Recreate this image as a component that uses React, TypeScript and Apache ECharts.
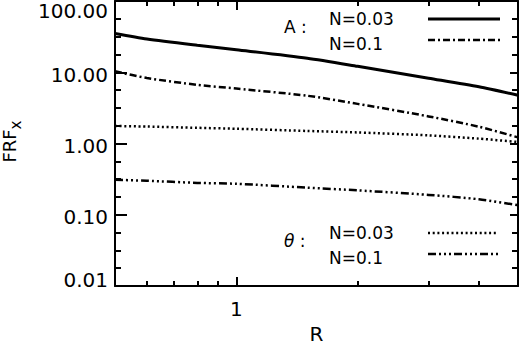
import React, { useEffect, useRef } from 'react';
import * as echarts from 'echarts';

// Data
const R = [0.5, 0.6, 0.8, 1.0, 1.5, 2.0, 3.0, 4.0, 5.0];
const A_N003 = [35, 29.3, 23.9, 20.7, 15.7, 12.1, 8.24, 6.25, 4.75];
const A_N01 = [10.3, 8.3, 6.65, 5.9, 4.68, 3.6, 2.4, 1.72, 1.22];
const TH_N003 = [1.76, 1.73, 1.66, 1.61, 1.5, 1.43, 1.3, 1.17, 1.05];
const TH_N01 = [0.31, 0.3, 0.28, 0.272, 0.24, 0.22, 0.19, 0.165, 0.136];

const xMajorTicks = [1];
const xMinorTicks = [0.6, 0.7, 0.8, 0.9, 2, 3, 4];
const yTickLabels = ['0.01', '0.10', '1.00', '10.00', '100.00'];
const xRange = [0.5, 5];
const yRange = [0.01, 100];

const FONT = 'DejaVu Sans';
const INK = '#000';

const lg = (v: number) => Math.log10(v);
const toData = (ys: number[]) => R.map((r, i) => [lg(r), lg(ys[i])]);

export default function App() {
  const ref = useRef<HTMLDivElement>(null);
  useEffect(() => {
    if (!ref.current) return;
    const chart = echarts.init(ref.current, null, { renderer: 'svg' });

    const xBase = {
      type: 'value',
      min: lg(xRange[0]),
      max: lg(xRange[1]),
      splitLine: { show: false },
      axisLine: { show: true, onZero: false, lineStyle: { color: INK, width: 2 } },
    };
    const yBase = {
      type: 'value',
      min: lg(yRange[0]),
      max: lg(yRange[1]),
      interval: 1,
      splitLine: { show: false },
      axisLine: { show: true, onZero: false, lineStyle: { color: INK, width: 2 } },
    };

    const lineSeries = (name: string, ys: number[], type: any, width: number) => ({
      name,
      type: 'line',
      data: toData(ys),
      showSymbol: false,
      smooth: 0.25,
      lineStyle: { color: INK, width, type, cap: 'butt' },
      xAxisIndex: 0,
      yAxisIndex: 0,
    });

    const txt = (text: string, left: number, top: number) => ({
      type: 'text', left, top, style: { text, font: `17px "${FONT}"`, fill: INK },
    });

    chart.setOption({
      animation: false,
      backgroundColor: '#fff',
      grid: { left: 115, right: 1, top: 1, bottom: 58, containLabel: false, outerBoundsMode: 'none' },
      xAxis: [
        {
          ...xBase,
          position: 'bottom',
          axisTick: {
            show: true,
            inside: true,
            length: 9,
            customValues: xMajorTicks.map(lg),
            lineStyle: { color: INK, width: 2 },
          },
          axisLabel: {
            customValues: xMajorTicks.map(lg),
            formatter: (v: number) => String(Math.round(Math.pow(10, v))),
            fontFamily: FONT,
            fontSize: 20,
            color: INK,
            margin: 13,
          },
          name: 'R',
          nameLocation: 'middle',
          nameGap: 39,
          nameTextStyle: { fontFamily: FONT, fontSize: 20, lineHeight: 14, color: INK },
        },
        {
          ...xBase,
          position: 'bottom',
          axisLine: { show: false, onZero: false },
          axisTick: {
            show: true,
            inside: true,
            length: 5,
            customValues: xMinorTicks.map(lg),
            lineStyle: { color: INK, width: 2 },
          },
          axisLabel: { show: false },
        },
        {
          ...xBase,
          position: 'top',
          axisTick: {
            show: true,
            inside: true,
            length: 9,
            customValues: xMajorTicks.map(lg),
            lineStyle: { color: INK, width: 2 },
          },
          axisLabel: { show: false },
        },
        {
          ...xBase,
          position: 'top',
          axisLine: { show: false, onZero: false },
          axisTick: {
            show: true,
            inside: true,
            length: 5,
            customValues: xMinorTicks.map(lg),
            lineStyle: { color: INK, width: 2 },
          },
          axisLabel: { show: false },
        },
      ],
      yAxis: [
        {
          ...yBase,
          position: 'left',
          axisTick: { show: true, inside: true, length: 12, lineStyle: { color: INK, width: 2 } },
          minorTick: { show: true, splitNumber: 4, length: 6, lineStyle: { color: INK, width: 2 } },
          axisLabel: {
            margin: 7,
            fontFamily: FONT,
            fontSize: 20,
            color: INK,
            verticalAlignMaxLabel: 'top',
            formatter: (v: number) => {
              const i = Math.round(v) + 2;
              const s = yTickLabels[i];
              if (i === yTickLabels.length - 1) return '{t|' + s + '}';
              if (i === 0) return '{b|' + s + '}';
              return '{m|' + s + '}';
            },
            rich: {
              t: { fontFamily: FONT, fontSize: 20, color: INK },
              m: { fontFamily: FONT, fontSize: 20, color: INK, padding: [5, 0, 0, 0] },
              b: { fontFamily: FONT, fontSize: 20, color: INK, padding: [0, 0, 13, 0] },
            },
          },
        },
        {
          ...yBase,
          position: 'right',
          axisTick: { show: true, inside: true, length: 8, lineStyle: { color: INK, width: 2 } },
          minorTick: { show: true, splitNumber: 4, length: 6, lineStyle: { color: INK, width: 2 } },
          axisLabel: { show: false },
        },
      ],
      series: [
        lineSeries('A N=0.03', A_N003, 'solid', 3),
        lineSeries('A N=0.1', A_N01, [7, 3, 2, 3], 2.5),
        lineSeries('θ N=0.03', TH_N003, [2, 2.7], 2.5),
        lineSeries('θ N=0.1', TH_N01, [8, 3, 2, 3, 2, 3, 2, 3], 2.5),
      ],
      graphic: [
        // y-axis title FRF with subscript x (rotated)
        {
          type: 'text', x: 9, y: 146, rotation: Math.PI / 2,
          style: { text: 'FRF', font: `18px "${FONT}"`, fill: INK, align: 'center', verticalAlign: 'middle' },
        },
        {
          type: 'text', x: 16, y: 125, rotation: Math.PI / 2,
          style: { text: 'x', font: `15px "${FONT}"`, fill: INK, align: 'center', verticalAlign: 'middle' },
        },
        txt('A :', 284, 18),
        txt('N=0.03', 329, 10),
        txt('N=0.1', 329, 35),
        { type: 'line', shape: { x1: 428, y1: 19, x2: 500, y2: 19 }, style: { stroke: INK, lineWidth: 3 } },
        { type: 'line', shape: { x1: 428, y1: 40, x2: 500, y2: 40 }, style: { stroke: INK, lineWidth: 2.5, lineDash: [7, 3, 2, 3] } },
        {
          type: 'text', left: 284, top: 232,
          style: {
            text: '{i|θ} :',
            font: `17px "${FONT}"`,
            fill: INK,
            rich: { i: { fontFamily: FONT, fontSize: 17, fontStyle: 'italic', fill: INK } },
          },
        },
        txt('N=0.03', 329, 224),
        txt('N=0.1', 329, 249),
        { type: 'line', shape: { x1: 428, y1: 233, x2: 498, y2: 233 }, style: { stroke: INK, lineWidth: 2.5, lineDash: [2, 2.7] } },
        { type: 'line', shape: { x1: 428, y1: 254, x2: 498, y2: 254 }, style: { stroke: INK, lineWidth: 2.5, lineDash: [8, 3, 2, 3, 2, 3, 2, 3] } },
      ],
    });
    return () => chart.dispose();
  }, []);
  return (
    <div
      ref={ref}
      style={{ position: 'fixed', left: 0, top: 0, width: 519, height: 344, background: '#fff' }}
    />
  );
}
